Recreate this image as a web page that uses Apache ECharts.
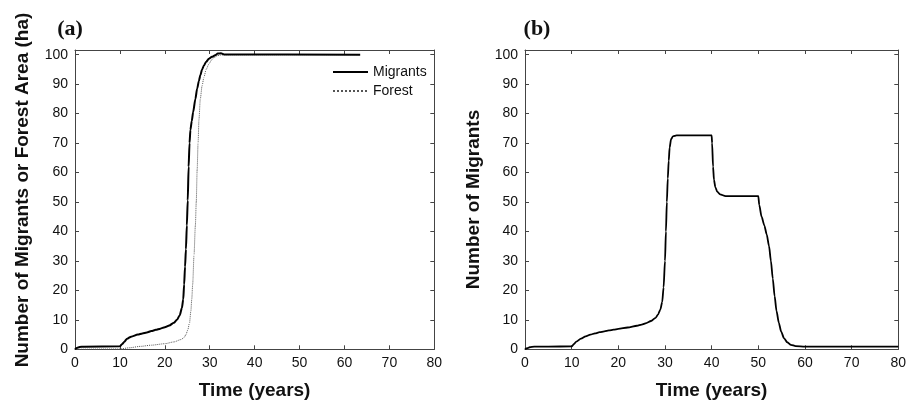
<!DOCTYPE html>
<html><head><meta charset="utf-8">
<script src="https://cdn.jsdelivr.net/npm/echarts@6/dist/echarts.min.js"></script>
<style>html,body{margin:0;padding:0;background:#fff}#c{width:906px;height:402px}</style>
</head><body><div id="c"></div>
<script>
// ---- data ----
const xTickLabels = [0, 10, 20, 30, 40, 50, 60, 70, 80];
const yTickLabels = [0, 10, 20, 30, 40, 50, 60, 70, 80, 90, 100];

// Panel (a) Migrants
const migA_t = [0, 0.5, 1, 2, 10, 10.5, 11, 11.6, 12.5, 14, 15, 16, 17, 18, 19, 20, 21, 22, 22.7, 23.3, 23.8, 24.1, 24.3, 24.5, 24.7, 24.9, 25.1, 25.3, 25.5, 25.7, 26, 26.3, 26.8, 27.2, 27.6, 27.9, 28.3, 28.7, 29.2, 29.8, 30.5, 31.2, 31.8, 32.5, 33.2, 63.5];
const migA_v = [0, 0.5, 0.8, 0.9, 1.0, 1.8, 2.6, 3.6, 4.3, 5.0, 5.4, 5.7, 6.2, 6.6, 7.0, 7.5, 8.1, 9.0, 10, 11.5, 14, 17, 22, 28, 34, 42, 50.5, 62, 70, 74.5, 77.5, 80.5, 85, 88.5, 91.2, 93, 95, 96.3, 97.6, 98.6, 99.3, 99.8, 100.4, 100.5, 100.1, 100];
// Panel (a) Forest
const forA_t = [0, 10, 12, 14.6, 17, 20, 22, 23.6, 24.3, 24.7, 25.1, 25.5, 25.8, 26, 26.2, 26.5, 26.8, 27, 27.2, 27.4, 27.6, 27.9, 28.3, 28.7, 29.2, 29.8, 30.4, 30.9, 31.8, 32.5, 33.5, 63.5];
const forA_v = [0, 0.1, 0.5, 1.0, 1.4, 1.9, 2.5, 3.3, 4.0, 5.0, 6.5, 9, 13, 17, 22, 32, 42, 50, 61, 70, 78, 85, 89.5, 92.3, 95, 96.8, 98.2, 99, 99.7, 99.9, 100, 100];
// Panel (b) Migrants
const migB_t = [0, 0.5, 1, 2, 5, 10, 10.5, 11, 12, 13, 14, 15, 16, 17, 18, 19, 20, 22, 24, 25, 26, 27, 28, 28.5, 29, 29.4, 29.7, 30, 30.2, 30.4, 30.6, 30.8, 31, 31.3, 31.7, 32.5, 40, 40.1, 40.3, 40.5, 40.8, 41.2, 41.8, 43, 50, 50.2, 50.7, 51.3, 51.8, 52.3, 52.7, 53.1, 53.5, 53.9, 54.4, 54.9, 55.5, 56.2, 57, 58, 60, 80];
const migB_v = [0, 0.4, 0.7, 0.9, 0.9, 1.0, 1.8, 2.6, 3.6, 4.4, 5.0, 5.4, 5.8, 6.1, 6.4, 6.7, 6.9, 7.4, 8.0, 8.4, 8.9, 9.6, 10.7, 11.8, 13.5, 16, 21, 30, 40, 50, 58, 64, 68.5, 71.3, 72.3, 72.6, 72.6, 70, 62, 57.5, 55, 53.5, 52.6, 52, 52, 49, 45, 42, 39, 35, 30, 24, 18, 13, 9, 6, 3.8, 2.4, 1.5, 1.1, 0.9, 0.9];

const zip = (t, v) => t.map((x, i) => [x, v[i]]);

// ---- styling ----
const AX = '#444';
const FONT = 'Arial, "Liberation Sans", sans-serif';

function xAxes(grid) {
  const base = {
    type: 'value', gridIndex: grid, min: 0, max: 80, interval: 10,
    axisLine: { show: true, onZero: false, lineStyle: { color: AX, width: 1 } },
    axisTick: { show: true, inside: true, length: 4, lineStyle: { color: AX } },
    splitLine: { show: false }
  };
  return [
    Object.assign({}, base, {
      position: 'bottom',
      axisLabel: { color: '#111', fontSize: 14, margin: 7, fontFamily: FONT,
        formatter: v => xTickLabels.includes(v) ? String(v) : '' },
      name: 'Time (years)', nameLocation: 'middle', nameGap: 32,
      nameTextStyle: { fontSize: 19, fontWeight: 'bold', color: '#111', fontFamily: FONT }
    }),
    Object.assign({}, base, { position: 'top', axisLabel: { show: false } })
  ];
}
function yAxes(grid) {
  const base = {
    type: 'value', gridIndex: grid, min: 0, max: 101.6, interval: 10,
    axisLine: { show: true, onZero: false, lineStyle: { color: AX, width: 1 } },
    axisTick: { show: true, inside: true, length: 4, lineStyle: { color: AX } },
    splitLine: { show: false }
  };
  return [
    Object.assign({}, base, {
      position: 'left',
      axisLabel: { color: '#111', fontSize: 14, margin: 7, fontFamily: FONT,
        formatter: v => yTickLabels.includes(v) ? String(v) : '' }
    }),
    Object.assign({}, base, { position: 'right', axisLabel: { show: false } })
  ];
}

const chart = echarts.init(document.getElementById('c'), null, { renderer: 'canvas' });
chart.setOption({
  animation: false,
  backgroundColor: '#fff',
  grid: [
    { left: 75, top: 50, width: 359.3, height: 299.3, containLabel: false, outerBoundsMode: 'none' },
    { left: 525, top: 50, width: 373.3, height: 299.3, containLabel: false, outerBoundsMode: 'none' }
  ],
  xAxis: [...xAxes(0), ...xAxes(1)],
  yAxis: [...yAxes(0), ...yAxes(1)],
  legend: {
    orient: 'vertical', left: 332, top: 65, itemGap: 5, itemWidth: 35, itemHeight: 14,
    padding: 0, data: ['Migrants', 'Forest'],
    itemStyle: { opacity: 0 },
    textStyle: { fontSize: 14, color: '#111', fontFamily: FONT }
  },
  graphic: [
    { type: 'text', x: 70, y: 29, style: { text: '(a)', font: 'bold 22px "Liberation Serif", "Times New Roman", serif', fill: '#111', textAlign: 'center', textVerticalAlign: 'middle' } },
    { type: 'text', x: 537, y: 29, style: { text: '(b)', font: 'bold 22px "Liberation Serif", "Times New Roman", serif', fill: '#111', textAlign: 'center', textVerticalAlign: 'middle' } },
    { type: 'text', x: 23, y: 190, rotation: Math.PI / 2, style: { text: 'Number of Migrants or Forest Area (ha)', font: 'bold 19px Arial, "Liberation Sans", sans-serif', fill: '#111', textAlign: 'center', textVerticalAlign: 'middle' } },
    { type: 'text', x: 474, y: 199.5, rotation: Math.PI / 2, style: { text: 'Number of Migrants', font: 'bold 19px Arial, "Liberation Sans", sans-serif', fill: '#111', textAlign: 'center', textVerticalAlign: 'middle' } }
  ],
  series: [
    { name: 'Forest', type: 'line', xAxisIndex: 0, yAxisIndex: 0, data: zip(forA_t, forA_v),
      symbol: 'none', smooth: 0.25, smoothMonotone: 'x',
      lineStyle: { color: '#555', width: 1, type: 'dotted' }, itemStyle: { color: '#555' } },
    { name: 'Migrants', type: 'line', xAxisIndex: 0, yAxisIndex: 0, data: zip(migA_t, migA_v),
      symbol: 'none', smooth: 0.25, smoothMonotone: 'x',
      lineStyle: { color: '#000', width: 2 }, itemStyle: { color: '#000' } },
    { name: 'MigrantsB', type: 'line', xAxisIndex: 2, yAxisIndex: 2, data: zip(migB_t, migB_v),
      symbol: 'none', smooth: 0.25, smoothMonotone: 'x',
      lineStyle: { color: '#000', width: 1.8 }, itemStyle: { color: '#000' } }
  ]
});
</script>
</body></html>
